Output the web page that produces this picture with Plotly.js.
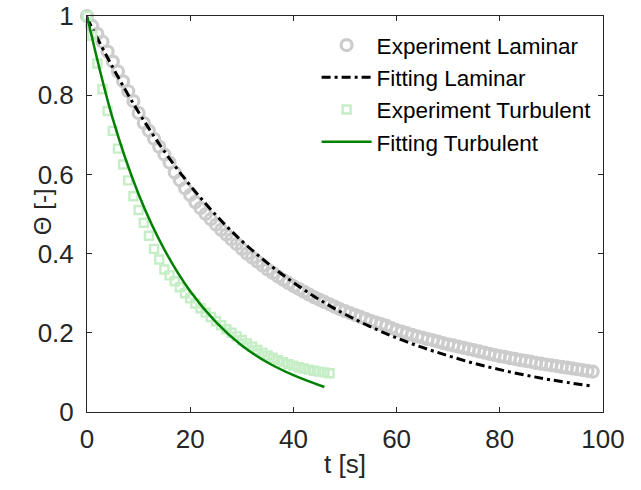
<!DOCTYPE html>
<html>
<head>
<meta charset="utf-8">
<script src="https://cdn.plot.ly/plotly-3.0.1.min.js"></script>
<style>html,body{margin:0;padding:0;background:#fff}#chart{width:641px;height:490px}</style>
</head>
<body>
<div id="chart"></div>
<script>
// Experiment Laminar
var tLam = [0,1,2,3,4,5,6,7,8,9,10,11,12,13,14,15,16,17,18,19,20,21,22,23,24,25,26,27,28,29,30,31,32,33,34,35,36,37,38,39,40,41,42,43,44,45,46,47,48,49,50,51,52,53,54,55,56,57,58,59,60,61,62,63,64,65,66,67,68,69,70,71,72,73,74,75,76,77,78,79,80,81,82,83,84,85,86,87,88,89,90,91,92,93,94,95,96,97,98];
var thetaLam = [1.00,0.975,0.955,0.935,0.91,0.885,0.86,0.835,0.81,0.785,0.755,0.73,0.71,0.69,0.67,0.65,0.63,0.605,0.585,0.565,0.548,0.53,0.515,0.50,0.487,0.473,0.46,0.448,0.436,0.424,0.412,0.40,0.39,0.38,0.37,0.36,0.351,0.342,0.334,0.326,0.318,0.311,0.304,0.297,0.29,0.284,0.278,0.272,0.266,0.26,0.255,0.25,0.245,0.24,0.235,0.23,0.226,0.222,0.218,0.212,0.207,0.203,0.199,0.195,0.191,0.188,0.184,0.181,0.178,0.174,0.171,0.168,0.165,0.162,0.159,0.156,0.153,0.15,0.147,0.144,0.141,0.139,0.136,0.134,0.131,0.129,0.127,0.124,0.122,0.12,0.118,0.116,0.114,0.112,0.11,0.108,0.106,0.104,0.102];
// Fitting Laminar
var tLamFit = [0,5,10,15,20,25,30,35,40,45,50,55,60,65,70,75,80,85,90,97.5];
var thetaLamFit = [0.995,0.87,0.757,0.658,0.572,0.497,0.432,0.376,0.327,0.284,0.247,0.215,0.187,0.163,0.142,0.123,0.107,0.093,0.081,0.066];
// Experiment Turbulent
var tTur = [0,1,2,3,4,5,6,7,8,9,10,11,12,13,14,15,16,17,18,19,20,21,22,23,24,25,26,27,28,29,30,31,32,33,34,35,36,37,38,39,40,41,42,43,44,45,46,47];
var thetaTur = [1.00,0.95,0.88,0.815,0.76,0.71,0.665,0.625,0.585,0.545,0.51,0.478,0.445,0.412,0.385,0.36,0.345,0.33,0.315,0.30,0.287,0.274,0.262,0.251,0.24,0.229,0.219,0.209,0.2,0.191,0.182,0.173,0.165,0.157,0.15,0.143,0.137,0.131,0.126,0.121,0.117,0.113,0.11,0.107,0.104,0.102,0.10,0.098];
// Fitting Turbulent
var tTurFit = [0,5,10,15,20,25,30,35,40,46];
var thetaTurFit = [1.0,0.74,0.55,0.41,0.305,0.227,0.168,0.125,0.093,0.063];

var axisColor = '#262626';
var fontFam = 'Liberation Sans, Arial, Helvetica, sans-serif';

var traces = [
  {x: tLam, y: thetaLam, name: 'Experiment Laminar', mode: 'markers', type: 'scatter', cliponaxis: false,
   marker: {symbol: 'circle-open', size: 11, color: '#cccccc', line: {width: 3.2, color: '#cccccc'}}},
  {x: tLamFit, y: thetaLamFit, name: 'Fitting Laminar', mode: 'lines', type: 'scatter',
   line: {color: '#000000', width: 3, dash: '9px,4px,3px,4px', shape: 'spline'}},
  {x: tTur, y: thetaTur, name: 'Experiment Turbulent', mode: 'markers', type: 'scatter', cliponaxis: false,
   marker: {symbol: 'square-open', size: 8, color: '#c6eec6', line: {width: 2.4, color: '#c6eec6'}}},
  {x: tTurFit, y: thetaTurFit, name: 'Fitting Turbulent', mode: 'lines', type: 'scatter',
   line: {color: '#008000', width: 2.5, shape: 'spline'}}
];

var layout = {
  width: 641, height: 490,
  margin: {l: 87, r: 38, t: 16, b: 78},
  paper_bgcolor: '#ffffff', plot_bgcolor: '#ffffff',
  font: {family: fontFam, color: axisColor, size: 22},
  showlegend: true,
  legend: {x: 0.445, y: 0.98, xanchor: 'left', yanchor: 'top', bgcolor: 'rgba(0,0,0,0)',
           font: {size: 22.5, color: '#000000', family: fontFam}, itemwidth: 50},
  xaxis: {range: [0, 100], dtick: 20, tick0: 0, showgrid: false, zeroline: false,
          showline: true, linecolor: axisColor, linewidth: 1, mirror: 'allticks',
          ticks: 'inside', ticklen: 5, tickcolor: axisColor,
          tickfont: {size: 26, color: axisColor}, ticklabelstandoff: 4,
          title: {text: 't [s]', font: {size: 26, color: axisColor}, standoff: 1}},
  yaxis: {range: [0, 1], dtick: 0.2, tick0: 0, showgrid: false, zeroline: false,
          showline: true, linecolor: axisColor, linewidth: 1, mirror: 'allticks',
          ticks: 'inside', ticklen: 5, tickcolor: axisColor,
          tickfont: {size: 26, color: axisColor}, ticklabelstandoff: 7},
  annotations: [
    {text: 'Θ [-]', xref: 'paper', yref: 'paper', x: -0.087, y: 0.505, xanchor: 'center', yanchor: 'middle',
     textangle: -90, showarrow: false, font: {size: 24, color: axisColor, family: fontFam}}
  ]
};

Plotly.newPlot('chart', traces, layout, {displayModeBar: false, staticPlot: true});
</script>
</body>
</html>
